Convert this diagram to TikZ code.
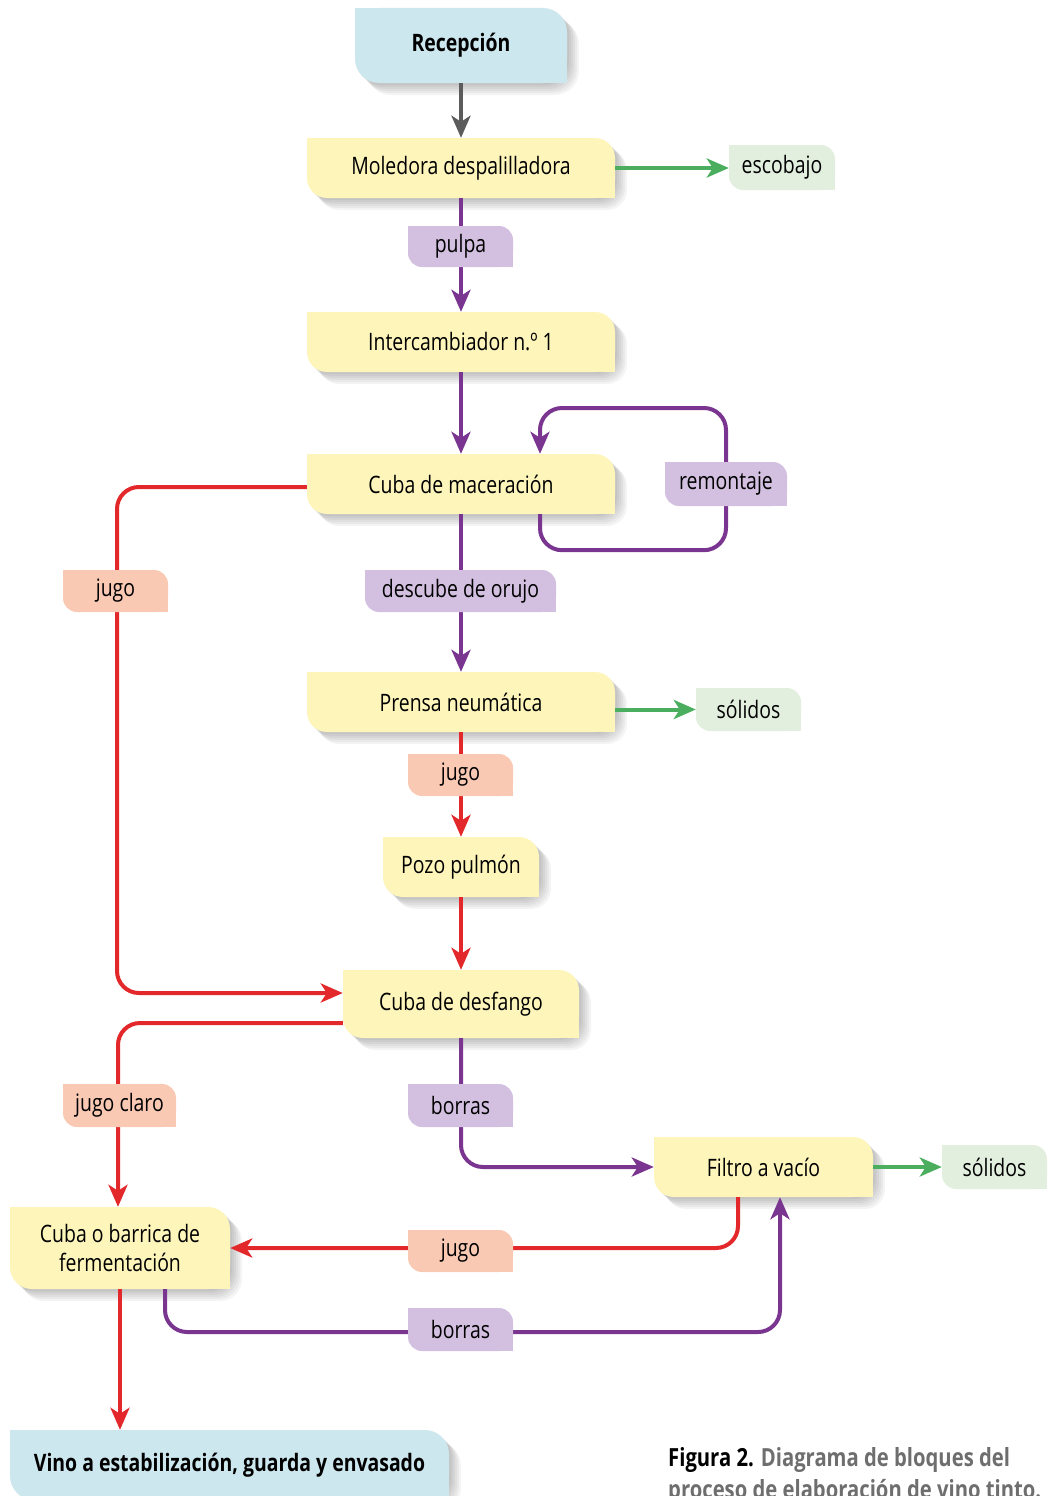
\documentclass[tikz,border=0pt]{standalone}
\usepackage{fontspec}
\setmainfont{Open Sans}[FakeStretch=0.81]
\usetikzlibrary{arrows.meta}
\definecolor{cblue}{HTML}{CDE7EF}
\definecolor{cyel}{HTML}{FEF5BB}
\definecolor{cgrn}{HTML}{E2EFDE}
\definecolor{clav}{HTML}{D3C0E0}
\definecolor{csal}{HTML}{F9C9B4}
\definecolor{lpurp}{HTML}{7A3590}
\definecolor{lred}{HTML}{E3282B}
\definecolor{lgrn}{HTML}{4AAE5E}
\definecolor{lgray}{HTML}{5C5C5C}
\definecolor{capgray}{HTML}{6E6E6E}
\tikzset{
  conn/.style={line width=4pt, -{Stealth[length=22pt,width=19pt,inset=6pt]}, rounded corners=22pt},
  purp/.style={conn, draw=lpurp},
  redc/.style={conn, draw=lred},
  grnc/.style={conn, draw=lgrn},
  grayc/.style={conn, draw=lgray},
  boxtext/.style={inner sep=0pt, align=center, text=black}
}
\newcommand\blk[8]{%
  \foreach \d in {2,4,...,12}{\fill[black,opacity=0.045,rounded corners=#7] ({#2+\d},{#3+\d}) rectangle ({#4+\d},{#5+\d});}
  \fill[#6,rounded corners=#7] (#2,#3) rectangle (#4,#5);
  \fill[#6] (#2,#3) rectangle ({#2+26},{#3+26});
  \fill[#6] ({#4-26},{#5-26}) rectangle (#4,#5);
  \node[boxtext, minimum width={(#4-#2)*1pt}, minimum height={(#5-#3)*1pt}] (#1) at ({(#2+#4)/2},{(#3+#5)/2}) {#8};
}
\newcommand\lbl[7]{%
  \fill[#6,rounded corners=14pt] (#2,#3) rectangle (#4,#5);
  \fill[#6] (#2,#3) rectangle ({#2+16},{#3+16});
  \fill[#6] ({#4-16},{#5-16}) rectangle (#4,#5);
  \node[boxtext, minimum width={(#4-#2)*1pt}, minimum height={(#5-#3)*1pt}] (#1) at ({(#2+#4)/2},{(#3+#5)/2}) {#7};
}
\begin{document}
\begin{tikzpicture}[x=1pt,y=-1pt, every node/.style={font=\fontsize{24}{30}\selectfont}]
\useasboundingbox (0,0) rectangle (1053,1496);
% main boxes
\blk{rec}{355}{8}{567}{83}{cblue}{24pt}{\textbf{Recepción}}
\blk{mol}{307}{138}{615}{198}{cyel}{20pt}{Moledora despalilladora}
\blk{int}{307}{312}{615}{372}{cyel}{20pt}{Intercambiador n.º 1}
\blk{mac}{307}{454}{615}{514}{cyel}{20pt}{Cuba de maceración}
\blk{pre}{307}{672}{615}{732}{cyel}{20pt}{Prensa neumática}
\blk{poz}{383}{837}{539}{897}{cyel}{20pt}{Pozo pulmón}
\blk{des}{343}{970}{579}{1038}{cyel}{20pt}{Cuba de desfango}
\blk{fil}{654}{1137}{873}{1197}{cyel}{20pt}{Filtro a vacío}
\blk{fer}{10}{1207}{230}{1289}{cyel}{22pt}{Cuba o barrica de\\[-1pt]fermentación}
\blk{vino}{10}{1430}{449}{1500}{cblue}{24pt}{\textbf{Vino a estabilización, guarda y envasado}}
% side outputs
\lbl{esc}{729}{145}{835}{190}{cgrn}{escobajo}
\lbl{sol1}{696}{688}{801}{731}{cgrn}{sólidos}
\lbl{sol2}{942}{1145}{1047}{1189}{cgrn}{sólidos}
% connectors
\draw[grayc] (rec.south) -- (mol.north);
\draw[purp] (mol.south) -- (int.north);
\draw[grnc] (mol.east) -- (mol.east -| esc.west);
\draw[purp] (int.south) -- (mac.north);
\draw[purp] (mac.south) -- (pre.north);
\draw[purp] ([xshift=79pt]mac.south) -- ++(0,36) -| (726,408) -| ([xshift=79pt]mac.north);
\draw[redc] ([yshift=-3pt]mac.west) -| (117,993) -- ([yshift=11pt]des.west);
\draw[grnc] (pre.east |- sol1.west) -- (sol1.west);
\draw[redc] (pre.south) -- (poz.north);
\draw[redc] (poz.south) -- (des.north);
\draw[redc] ([yshift=-19pt]des.west) -| ([xshift=-2pt]fer.north);
\draw[purp] (des.south) |- (fil.west);
\draw[grnc] (fil.east) -- (sol2.west);
\draw[redc] ([xshift=-25.5pt]fil.south) |- (fer.east);
\draw[purp] ([xshift=45pt]fer.south) |- (780,1332) -- ([xshift=16.5pt]fil.south);
\draw[redc] (fer.south) -- (fer.south |- vino.north);
% labels on lines
\lbl{lpulpa}{408}{226}{513}{267}{clav}{pulpa}
\lbl{lremon}{665}{462}{787}{506}{clav}{remontaje}
\lbl{ljugo1}{63}{570}{168}{612}{csal}{jugo}
\lbl{ldesc}{365}{570}{556}{612}{clav}{descube de orujo}
\lbl{ljugo2}{408}{754}{513}{796}{csal}{jugo}
\lbl{ljclaro}{63}{1084}{176}{1127}{csal}{jugo claro}
\lbl{lborr1}{408}{1084}{513}{1127}{clav}{borras}
\lbl{ljugo3}{408}{1230}{513}{1272}{csal}{jugo}
\lbl{lborr2}{408}{1308}{513}{1351}{clav}{borras}
% caption
\node[anchor=base west, inner sep=0pt, font=\fontsize{25}{30}\selectfont\bfseries] (cap1) at (668,1466) {Figura 2. \textcolor{capgray}{Diagrama de bloques del}};
\node[anchor=base west, inner sep=0pt, font=\fontsize{25}{30}\selectfont\bfseries, text=capgray] (cap2) at (668,1498) {proceso de elaboración de vino tinto.};
\end{tikzpicture}
\end{document}
